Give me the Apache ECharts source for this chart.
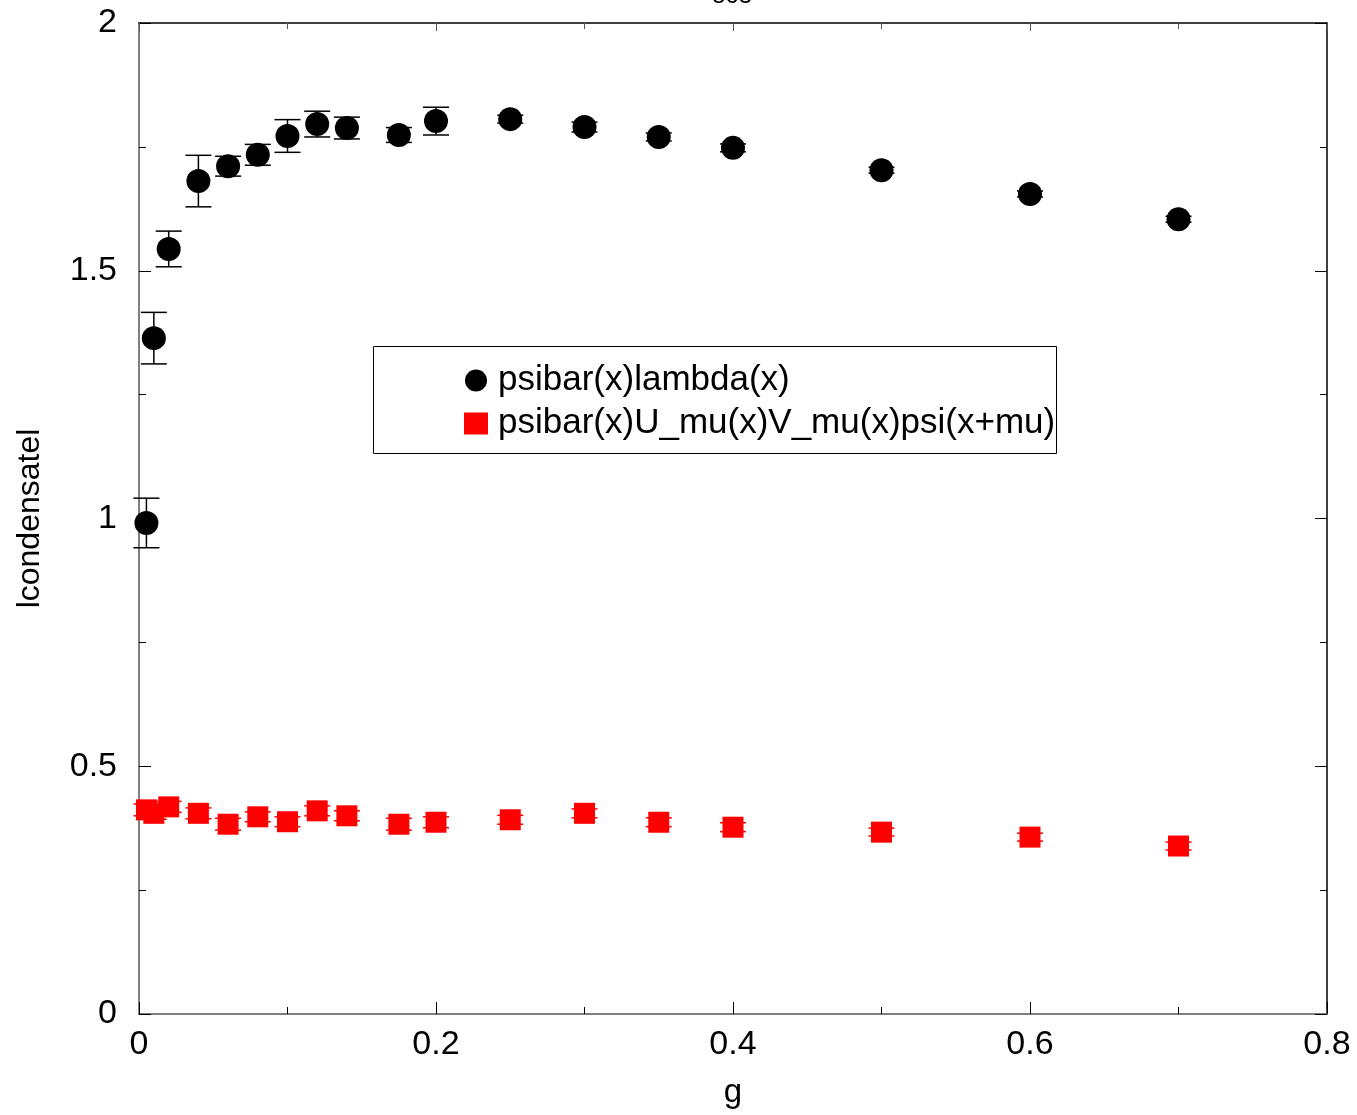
<!DOCTYPE html>
<html>
<head>
<meta charset="utf-8">
<script src="https://cdn.jsdelivr.net/npm/echarts@6/dist/echarts.min.js"></script>
<style>html,body{margin:0;padding:0;background:#fff;}#c{width:1357px;height:1115px;}</style>
</head>
<body>
<div id="c"></div>
<script>
var seriesNames = ['psibar(x)lambda(x)', 'psibar(x)U_mu(x)V_mu(x)psi(x+mu)'];
var gValues = [0.005, 0.01, 0.02, 0.04, 0.06, 0.08, 0.1, 0.12, 0.14, 0.175, 0.2, 0.25, 0.3, 0.35, 0.4, 0.5, 0.6, 0.7];
var lambdaValues = [0.991, 1.364, 1.544, 1.681, 1.711, 1.734, 1.772, 1.796, 1.788, 1.774, 1.802, 1.806, 1.790, 1.770, 1.748, 1.703, 1.655, 1.604];
var lambdaErrors = [0.050, 0.052, 0.036, 0.052, 0.020, 0.021, 0.033, 0.026, 0.022, 0.015, 0.028, 0.008, 0.010, 0.008, 0.008, 0.006, 0.006, 0.006];
var linkValues = [0.412, 0.405, 0.418, 0.405, 0.383, 0.398, 0.388, 0.410, 0.400, 0.383, 0.387, 0.392, 0.405, 0.387, 0.377, 0.367, 0.357, 0.339];
var linkErrors = [0.012, 0.012, 0.011, 0.011, 0.012, 0.010, 0.010, 0.010, 0.010, 0.012, 0.011, 0.009, 0.009, 0.009, 0.009, 0.008, 0.008, 0.008];
var xTicks = ['0', '0.2', '0.4', '0.6', '0.8'];
var yTicks = ['0', '0.5', '1', '1.5', '2'];

var FONT = 'Liberation Sans, Arial, Helvetica, sans-serif';

function pts(vals) { return gValues.map(function (g, i) { return [g, vals[i]]; }); }
function errs(vals, e) { return gValues.map(function (g, i) { return [g, vals[i], e[i]]; }); }

function errorRender(color) {
  return function (params, api) {
    var x = api.value(0), y = api.value(1), e = api.value(2);
    var top = api.coord([x, y + e]);
    var bot = api.coord([x, y - e]);
    var hw = 13;
    var st = { stroke: color, lineWidth: 1.5 };
    return {
      type: 'group',
      children: [
        { type: 'line', shape: { x1: top[0], y1: top[1], x2: bot[0], y2: bot[1] }, style: st },
        { type: 'line', shape: { x1: top[0] - hw, y1: top[1], x2: top[0] + hw, y2: top[1] }, style: st },
        { type: 'line', shape: { x1: bot[0] - hw, y1: bot[1], x2: bot[0] + hw, y2: bot[1] }, style: st }
      ]
    };
  };
}

var axisLabelX = { fontSize: 34, color: '#000', fontFamily: FONT, margin: 14, formatter: function (v) { var s = String(Math.round(v * 10) / 10); return xTicks.indexOf(s) >= 0 ? s : ''; } };
var axisLabelY = { fontSize: 34, color: '#000', fontFamily: FONT, margin: 22, formatter: function (v) { var s = String(Math.round(v * 10) / 10); return yTicks.indexOf(s) >= 0 ? s : ''; } };

var chart = echarts.init(document.getElementById('c'), null, { renderer: 'canvas' });
chart.setOption({
  animation: false,
  backgroundColor: '#fff',
  grid: { left: 139, right: 30, top: 23, bottom: 101, containLabel: false, outerBoundsMode: 'none' },
  xAxis: [
    {
      type: 'value', min: 0, max: 0.8, interval: 0.2, position: 'bottom',
      name: 'g', nameLocation: 'middle', nameGap: 62,
      nameTextStyle: { fontSize: 33, color: '#000', fontFamily: FONT },
      axisLine: { onZero: false, lineStyle: { color: '#808080', width: 2 } },
      axisTick: { inside: true, length: 12, lineStyle: { color: '#000', width: 1 } },
      minorTick: { show: true, splitNumber: 2, length: 7, lineStyle: { color: '#000', width: 1 } },
      axisLabel: axisLabelX,
      splitLine: { show: false }
    },
    {
      type: 'value', min: 0, max: 0.8, interval: 0.2, position: 'top',
      axisLine: { onZero: false, lineStyle: { color: '#000', width: 1.5 } },
      axisTick: { inside: true, length: 8, lineStyle: { color: '#555', width: 1 } },
      minorTick: { show: true, splitNumber: 2, length: 6, lineStyle: { color: '#555', width: 1 } },
      axisLabel: { show: false },
      splitLine: { show: false }
    }
  ],
  yAxis: [
    {
      type: 'value', min: 0, max: 2, interval: 0.5, position: 'left',
      name: 'lcondensatel', nameLocation: 'middle', nameGap: 93, nameRotate: 90,
      nameTextStyle: { fontSize: 32, color: '#000', fontFamily: FONT },
      axisLine: { onZero: false, lineStyle: { color: '#808080', width: 2 } },
      axisTick: { inside: true, length: 12, lineStyle: { color: '#000', width: 1 } },
      minorTick: { show: true, splitNumber: 2, length: 7, lineStyle: { color: '#000', width: 1 } },
      axisLabel: axisLabelY,
      splitLine: { show: false }
    },
    {
      type: 'value', min: 0, max: 2, interval: 0.5, position: 'right',
      axisLine: { onZero: false, lineStyle: { color: '#000', width: 1.5 } },
      axisTick: { inside: true, length: 12, lineStyle: { color: '#000', width: 1 } },
      minorTick: { show: true, splitNumber: 2, length: 7, lineStyle: { color: '#000', width: 1 } },
      axisLabel: { show: false },
      splitLine: { show: false }
    }
  ],
  legend: {
    orient: 'vertical', left: 464, top: 363, itemWidth: 24, itemHeight: 22, itemGap: 8,
    padding: 0, selectedMode: false,
    textStyle: { fontSize: 35, lineHeight: 35, color: '#000', fontFamily: FONT, padding: [0, 0, 0, 5] },
    data: [
      { name: seriesNames[0], icon: 'circle' },
      { name: seriesNames[1], icon: 'rect' }
    ]
  },
  graphic: [
    { type: 'rect', left: 373, top: 346, z: 100, silent: true, shape: { width: 683, height: 107 }, style: { fill: 'rgba(0,0,0,0)', stroke: '#000', lineWidth: 1 } },
    { type: 'text', left: 712, top: -16, style: { text: '863', fontSize: 24, fill: '#000', fontFamily: FONT } }
  ],
  series: [
    { name: seriesNames[0] + ' err', type: 'custom', renderItem: errorRender('#000'), data: errs(lambdaValues, lambdaErrors), z: 2, encode: { x: 0, y: 1 } },
    { name: seriesNames[1] + ' err', type: 'custom', renderItem: errorRender('#ff0000'), data: errs(linkValues, linkErrors), z: 2, encode: { x: 0, y: 1 } },
    { name: seriesNames[0], type: 'scatter', symbol: 'circle', symbolSize: 24, itemStyle: { color: '#000', opacity: 1 }, data: pts(lambdaValues), z: 3 },
    { name: seriesNames[1], type: 'scatter', symbol: 'rect', symbolSize: 21, itemStyle: { color: '#ff0000', opacity: 1 }, data: pts(linkValues), z: 3 }
  ]
});
</script>
</body>
</html>
